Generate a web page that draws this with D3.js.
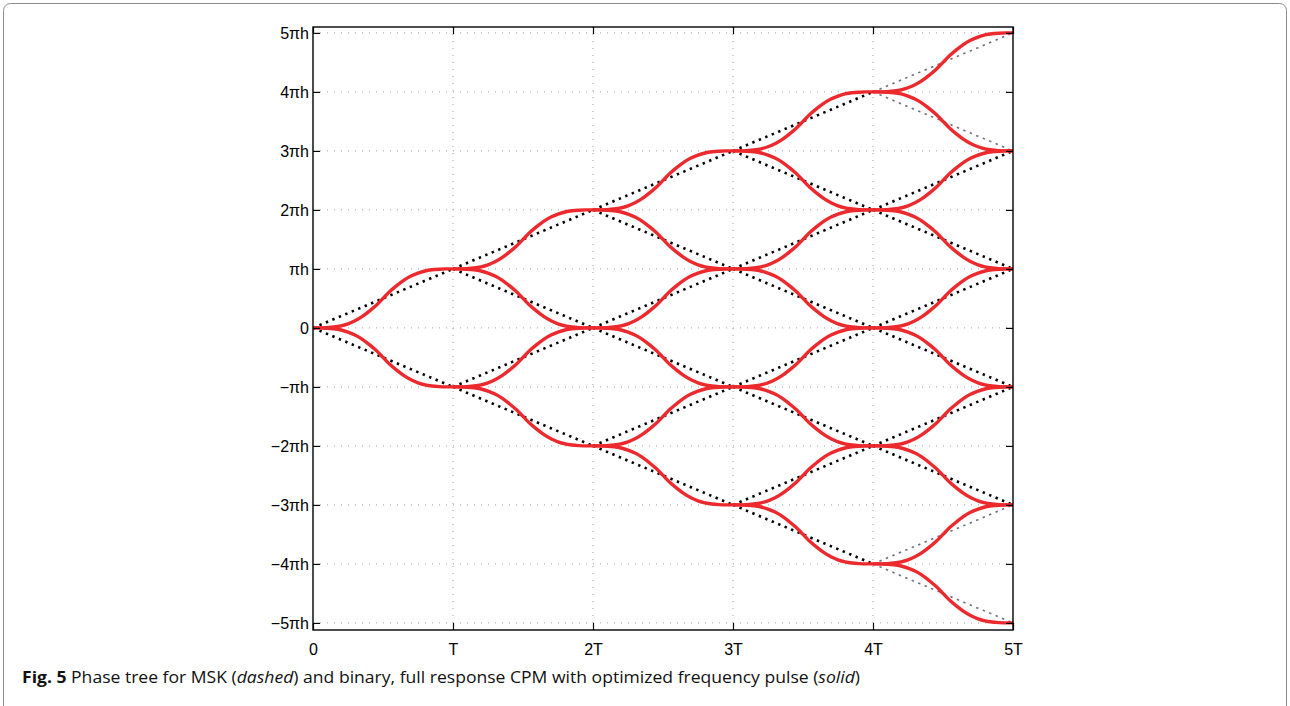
<!DOCTYPE html>
<html>
<head>
<meta charset="utf-8">
<script src="https://cdn.jsdelivr.net/npm/d3@7"></script>
<style>
  html, body { margin: 0; padding: 0; background: #fff; }
  svg { display: block; }
</style>
</head>
<body>
<svg id="fig" width="1290" height="706"></svg>
<script>
// Symbol intervals on the time axis and their labels
const timeTicks = [0, 1, 2, 3, 4, 5];
const timeLabels = ["0", "T", "2T", "3T", "4T", "5T"];

// Phase levels in units of πh and their labels
const phaseTicks = [5, 4, 3, 2, 1, 0, -1, -2, -3, -4, -5];
const phaseLabels = ["5πh", "4πh", "3πh", "2πh", "πh", "0", "−πh", "−2πh", "−3πh", "−4πh", "−5πh"];

// Number of symbols in the tree
const numSymbols = 5;

// Phase response over one symbol (fraction of T -> fraction of πh)
// MSK: linear phase ramp
const mskT = [0, 0.25, 0.5, 0.75, 1];
const mskQ = [0, 0.25, 0.5, 0.75, 1];

// Optimized full-response frequency pulse: integrated phase
const cpmT = [0, 0.05, 0.1, 0.15, 0.2, 0.25, 0.3, 0.35, 0.4, 0.45, 0.5,
              0.55, 0.6, 0.65, 0.7, 0.75, 0.8, 0.85, 0.9, 0.95, 1];
const cpmQ = [0, 0.0, 0.005, 0.015, 0.035, 0.07, 0.12, 0.19, 0.28, 0.38, 0.5,
              0.62, 0.72, 0.81, 0.88, 0.93, 0.965, 0.985, 0.995, 1, 1];

const svg = d3.select("#fig");

// Figure frame
svg.append("rect")
  .attr("x", 3.5).attr("y", 3.5)
  .attr("width", 1283).attr("height", 712)
  .attr("rx", 7)
  .attr("fill", "none")
  .attr("stroke", "#8c8c8c")
  .attr("stroke-width", 1);

const plot = { left: 313, right: 1013, top: 27, bottom: 630 };

const x = d3.scaleLinear().domain([0, numSymbols]).range([plot.left, plot.right]);
const y = d3.scaleLinear().domain([-5.12, 5.1]).range([plot.bottom, plot.top]);

// Grid lines
const grid = svg.append("g");
grid.selectAll("line.gx")
  .data(timeTicks.slice(1, -1))
  .join("line")
  .attr("x1", d => x(d)).attr("x2", d => x(d))
  .attr("y1", plot.top).attr("y2", plot.bottom)
  .attr("stroke", "#a0a0a0").attr("stroke-width", 1)
  .attr("stroke-dasharray", "1,6");
grid.selectAll("line.gy")
  .data(phaseTicks)
  .join("line")
  .attr("x1", plot.left).attr("x2", plot.right)
  .attr("y1", d => y(d)).attr("y2", d => y(d))
  .attr("stroke", "#a0a0a0").attr("stroke-width", 1)
  .attr("stroke-dasharray", "1,6");

// Branches of the phase tree: from node (k, m) to (k+1, m±1)
const binom = (n, r) => { let c = 1; for (let i = 0; i < r; i++) c = c * (n - i) / (i + 1); return c; };
const branches = [];
for (let k = 0; k < numSymbols; k++) {
  for (let m = -k; m <= k; m += 2) {
    for (const dir of [1, -1]) {
      // number of complete paths through this branch
      const count = binom(k, (k + m) / 2) * Math.pow(2, numSymbols - 1 - k);
      branches.push({ k, m, dir, count });
    }
  }
}

svg.append("clipPath").attr("id", "plotclip")
  .append("rect")
  .attr("x", plot.left).attr("y", plot.top)
  .attr("width", plot.right - plot.left).attr("height", plot.bottom - plot.top);

const curves = svg.append("g").attr("clip-path", "url(#plotclip)");

function branchPoints(b, ts, qs) {
  return ts.map((t, i) => [x(b.k + t), y(b.m + b.dir * qs[i])]);
}

const line = d3.line().curve(d3.curveMonotoneX);

// MSK phase tree (dotted)
curves.append("g").selectAll("path")
  .data(branches)
  .join("path")
  .attr("d", b => line(branchPoints(b, mskT, mskQ)))
  .attr("fill", "none")
  .attr("stroke", b => b.count > 1 ? "#000" : "#6b6f86")
  .attr("stroke-width", b => b.count > 1 ? 2.6 : 1.6)
  .attr("stroke-dasharray", "2.4,4.6");

// Optimized CPM phase tree (solid)
curves.append("g").selectAll("path")
  .data(branches)
  .join("path")
  .attr("d", b => line(branchPoints(b, cpmT, cpmQ)))
  .attr("fill", "none")
  .attr("stroke", "#ec2a2e")
  .attr("stroke-width", 3.4)
  .attr("stroke-linejoin", "round");

// Axes box
svg.append("rect")
  .attr("x", plot.left).attr("y", plot.top)
  .attr("width", plot.right - plot.left).attr("height", plot.bottom - plot.top)
  .attr("fill", "none").attr("stroke", "#000").attr("stroke-width", 1.4);

const tickLen = 7;
const font = "'Liberation Sans', Arial, Helvetica, sans-serif";

// Bottom axis (ticks inside the box)
const xAxis = d3.axisBottom(x)
  .tickValues(timeTicks)
  .tickFormat((d, i) => timeLabels[i])
  .tickSizeInner(-tickLen).tickSizeOuter(0).tickPadding(14);
const gx = svg.append("g").attr("transform", `translate(0,${plot.bottom})`).call(xAxis);
gx.select(".domain").remove();
gx.selectAll(".tick line").attr("stroke", "#000").attr("stroke-width", 1.2);
gx.selectAll(".tick text").attr("font-family", font).attr("font-size", 16).attr("fill", "#000");

// Top axis ticks
const xTop = d3.axisTop(x).tickValues(timeTicks).tickFormat("")
  .tickSizeInner(-tickLen).tickSizeOuter(0);
const gxt = svg.append("g").attr("transform", `translate(0,${plot.top})`).call(xTop);
gxt.select(".domain").remove();
gxt.selectAll(".tick line").attr("stroke", "#000").attr("stroke-width", 1.2);

// Left axis
const yAxis = d3.axisLeft(y)
  .tickValues(phaseTicks)
  .tickFormat((d, i) => phaseLabels[i])
  .tickSizeInner(-tickLen).tickSizeOuter(0).tickPadding(4);
const gy = svg.append("g").attr("transform", `translate(${plot.left},0)`).call(yAxis);
gy.select(".domain").remove();
gy.selectAll(".tick line").attr("stroke", "#000").attr("stroke-width", 1.2);
gy.selectAll(".tick text").attr("font-family", font).attr("font-size", 16).attr("fill", "#000");

// Right axis ticks
const yRight = d3.axisRight(y).tickValues(phaseTicks).tickFormat("")
  .tickSizeInner(-tickLen).tickSizeOuter(0);
const gyr = svg.append("g").attr("transform", `translate(${plot.right},0)`).call(yRight);
gyr.select(".domain").remove();
gyr.selectAll(".tick line").attr("stroke", "#000").attr("stroke-width", 1.2);

// Caption
const cap = svg.append("text")
  .attr("x", 22).attr("y", 683)
  .attr("font-family", "'Open Sans', 'Noto Sans', sans-serif")
  .attr("font-size", 16.5)
  .attr("fill", "#111")
  .attr("textLength", 838)
  .attr("lengthAdjust", "spacingAndGlyphs");
cap.append("tspan").attr("font-weight", "bold").text("Fig. 5");
cap.append("tspan").text(" Phase tree for MSK (");
cap.append("tspan").attr("font-style", "italic").text("dashed");
cap.append("tspan").text(") and binary, full response CPM with optimized frequency pulse (");
cap.append("tspan").attr("font-style", "italic").text("solid");
cap.append("tspan").text(")");
</script>
</body>
</html>
